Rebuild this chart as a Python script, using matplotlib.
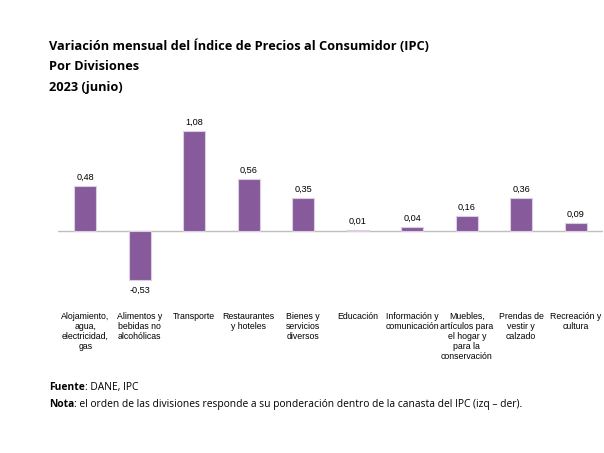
import matplotlib
matplotlib.use("Agg")
import matplotlib.pyplot as plt
import numpy as np

categories = [
    "Alojamiento,\nagua,\nelectricidad,\ngas",
    "Alimentos y\nbebidas no\nalcohólicas",
    "Transporte",
    "Restaurantes\ny hoteles",
    "Bienes y\nservicios\ndiversos",
    "Educación",
    "Información y\ncomunicación",
    "Muebles,\nartículos para\nel hogar y\npara la\nconservación",
    "Prendas de\nvestir y\ncalzado",
    "Recreación y\ncultura",
]
values = [0.48, -0.53, 1.08, 0.56, 0.35, 0.01, 0.04, 0.16, 0.36, 0.09]

title_lines = "Variación mensual del Índice de Precios al Consumidor (IPC)\nPor Divisiones\n2023 (junio)"
bar_color = "#875a9c"

W, H = 604, 453
fig = plt.figure(figsize=(W / 100, H / 100), dpi=100)
ax = fig.add_axes([58 / W, 1 - 290 / H, 545 / W, 172 / H])

x = np.arange(len(values))
ax.bar(x, values, width=0.4, color=bar_color, edgecolor="#dccfe3", linewidth=0.8, zorder=2)
ax.axhline(0, color="#bfbfbf", linewidth=1, zorder=1)
ax.set_xlim(-0.5, len(values) - 0.5)
ax.set_ylim(-0.634, 1.215)

for xi, v in zip(x, values):
    lbl = ("%.2f" % v).replace(".", ",")
    if v >= 0:
        ax.annotate(lbl, (xi, v), xytext=(0, 3), textcoords="offset points",
                    ha="center", va="bottom", fontsize=6.6, family="Liberation Sans")
    else:
        ax.annotate(lbl, (xi, v), xytext=(0, -4), textcoords="offset points",
                    ha="center", va="top", fontsize=6.6, family="Liberation Sans")

ax.set_xticks(x)
ax.set_xticklabels(categories, fontsize=6.3, family="Liberation Sans", linespacing=1.12)
ax.tick_params(axis="x", length=0, pad=16)
ax.set_yticks([])
for s in ax.spines.values():
    s.set_visible(False)

fig.text(49 / W, 1 - 39 / H, title_lines, ha="left", va="top", fontsize=9.2,
         fontweight="bold", family="Open Sans", linespacing=1.75)

t1 = fig.text(49 / W, 1 - 390 / H, "Fuente", fontsize=7.35, fontweight="bold",
              family="Open Sans", va="baseline")
ax.annotate(": DANE, IPC", xy=(1, 0), xycoords=t1, va="bottom", ha="left",
            fontsize=7.35, family="Open Sans", annotation_clip=False)
t2 = fig.text(49 / W, 1 - 407 / H, "Nota", fontsize=7.35, fontweight="bold",
              family="Open Sans", va="baseline")
ax.annotate(": el orden de las divisiones responde a su ponderación dentro de la canasta del IPC (izq – der).",
            xy=(1, 0), xycoords=t2, va="bottom", ha="left",
            fontsize=7.35, family="Open Sans", annotation_clip=False)

fig.savefig("out.png", dpi=100)
